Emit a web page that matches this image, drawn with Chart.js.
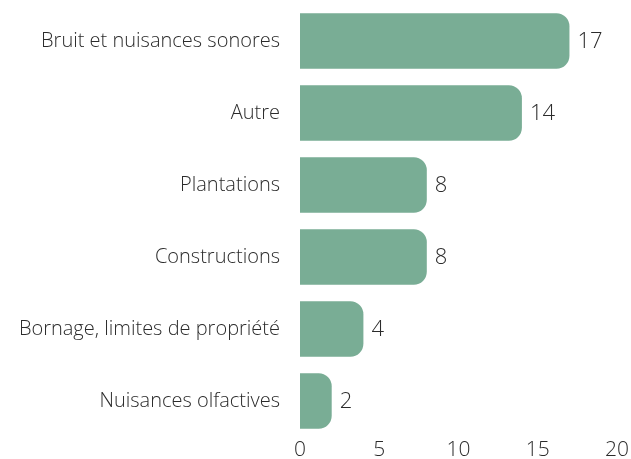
<!DOCTYPE html>
<html>
<head>
<meta charset="utf-8">
<script src="https://cdn.jsdelivr.net/npm/chart.js@4"></script>
<style>
  html, body { margin: 0; padding: 0; background: #fff; }
  #wrap { width: 631px; height: 459px; }
</style>
</head>
<body>
<div id="wrap"><canvas id="chart"></canvas></div>
<script>
// Data
const categories = [
    'Bruit et nuisances sonores',
    'Autre',
    'Plantations',
    'Constructions',
    'Bornage, limites de propriété',
    'Nuisances olfactives'
];
const counts = [17, 14, 8, 8, 4, 2];
const xTicks = [0, 5, 10, 15, 20];

const textColor = '#2b2b2b';
const fontFamily = '"Open Sans", Lato, sans-serif';

// Draws the value next to the end of each bar
const valueLabels = {
    id: 'valueLabels',
    afterDatasetsDraw(chart) {
        const ctx = chart.ctx;
        const meta = chart.getDatasetMeta(0);
        ctx.save();
        ctx.fillStyle = textColor;
        ctx.font = '300 22px ' + fontFamily;
        ctx.textAlign = 'left';
        ctx.textBaseline = 'middle';
        meta.data.forEach((bar, i) => {
            ctx.fillText(String(counts[i]), bar.x + 8, bar.y + 1);
        });
        ctx.restore();
    }
};

const ctx = document.getElementById('chart').getContext('2d');
new Chart(ctx, {
    type: 'bar',
    data: {
        labels: categories,
        datasets: [{
            data: counts,
            backgroundColor: '#79ad95',
            borderRadius: { topRight: 13, bottomRight: 13 },
            borderSkipped: false,
            barPercentage: 0.77,
            categoryPercentage: 1
        }]
    },
    options: {
        indexAxis: 'y',
        responsive: true,
        maintainAspectRatio: false,
        animation: false,
        layout: { padding: { top: 5, right: 14, bottom: 0, left: 0 } },
        plugins: {
            legend: { display: false },
            tooltip: { enabled: false }
        },
        scales: {
            x: {
                min: 0,
                max: 20,
                afterBuildTicks: axis => { axis.ticks = xTicks.map(v => ({ value: v })); },
                afterFit: axis => { axis.height = 22; },
                grid: { display: false, drawTicks: false },
                border: { display: false },
                ticks: {
                    color: textColor,
                    padding: 0,
                    maxRotation: 0,
                    font: { family: fontFamily, size: 21, weight: 300 }
                }
            },
            y: {
                afterFit: axis => {
                    axis.width = 300;
                    axis.paddingTop = 0;
                    axis.paddingBottom = 0;
                },
                grid: { display: false, drawTicks: false },
                border: { display: false },
                ticks: {
                    color: textColor,
                    padding: 20,
                    font: { family: fontFamily, size: 20, weight: 300 }
                }
            }
        }
    },
    plugins: [valueLabels]
});
</script>
</body>
</html>
